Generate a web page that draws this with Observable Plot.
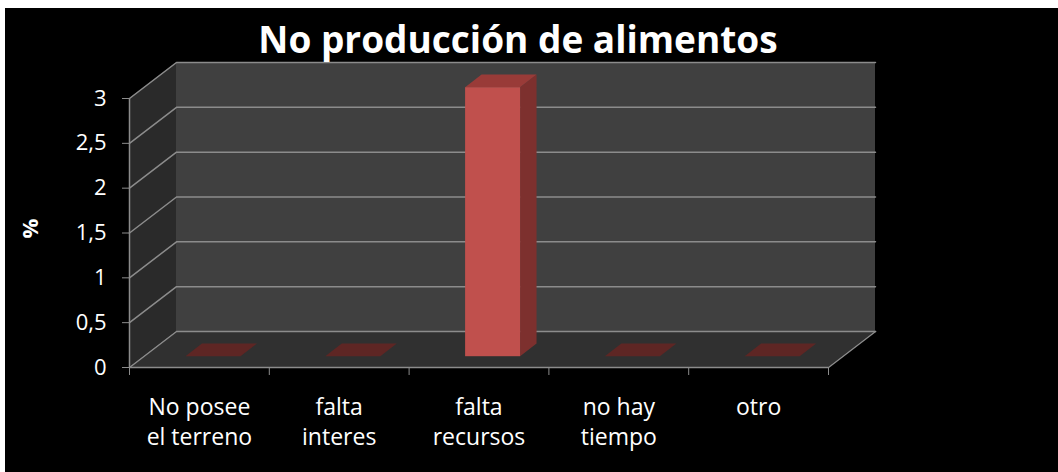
<!DOCTYPE html>
<html><head><meta charset="utf-8">
<script src="https://cdn.jsdelivr.net/npm/d3@7"></script>
<script src="https://cdn.jsdelivr.net/npm/@observablehq/plot@0.6"></script>
<style>
body{margin:0;background:#fff;}
#chart{position:absolute;left:5px;top:8px;width:1053px;height:464px;background:#000;}
#chart svg{display:block;}
</style></head><body><div id="chart"></div>
<script>
const title = "No producción de alimentos";
const categories = ["No posee\nel terreno", "falta\ninteres", "falta\nrecursos", "no hay\ntiempo", "otro"];
const values = [0, 0, 3, 0, 0];
const yTicks = [0, 0.5, 1, 1.5, 2, 2.5, 3];
const yTickLabels = ["0", "0,5", "1", "1,5", "2", "2,5", "3"];
const yLabel = "%";

const W = 1053, H = 464;
const mL = 124, mR = 183, mT = 54, mB = 105;
const depthPx = [47, 36];
const n = categories.length, yMax = d3.max(yTicks);
const kx = (W - mL - mR - depthPx[0]) / n;
const ky = (H - mT - mB - depthPx[1]) / yMax;
const dxU = depthPx[0] / kx, dyU = depthPx[1] / ky;
const bw = 55 / kx, f0 = 0.3, f1 = 0.65;

const bars = values.map((v, i) => {
  const xl = i + 0.5 - bw / 2 + f0 * dxU, xr = xl + bw;
  const b = f0 * dyU, t = v + f0 * dyU;
  const ddx = (f1 - f0) * dxU, ddy = (f1 - f0) * dyU;
  return {i, v, xl, xr, b, t, ddx, ddy};
});
const sides = bars.flatMap(d => [
  {i: d.i, x: d.xr, y1: d.b, y2: d.t},
  {i: d.i, x: d.xr + d.ddx, y1: d.b + d.ddy, y2: d.t + d.ddy}
]);
const tops = bars.flatMap(d => [
  {i: d.i, v: d.v, y: d.t, x1: d.xl, x2: d.xr},
  {i: d.i, v: d.v, y: d.t + d.ddy, x1: d.xl + d.ddx, x2: d.xr + d.ddx}
]);
// soft floor shadows under each bar footprint (slightly enlarged)
const ex = 10 / kx, ey = 5 / ky;
const shadows = bars.flatMap(d => [
  {i: d.i, y: d.b - ey, x1: d.xl - ex - 3 / kx, x2: d.xr + ex},
  {i: d.i, y: d.b + d.ddy + ey, x1: d.xl + d.ddx - ex, x2: d.xr + d.ddx + ex}
]);
const grid = yTicks.flatMap(v => [
  {v, x: 0, y: v}, {v, x: dxU, y: v + dyU}, {v, x: n + dxU, y: v + dyU}
]);
const gray = "#8c8c8c";

const plot = Plot.plot({
  width: W, height: H,
  marginLeft: mL, marginRight: mR, marginTop: mT, marginBottom: mB,
  style: {background: "#000", color: "white", fontFamily: "'Open Sans', sans-serif", overflow: "visible"},
  x: {type: "linear", domain: [0, n + dxU], axis: null},
  y: {type: "linear", domain: [0, yMax + dyU], axis: null},
  marks: [
    Plot.areaY([{x: 0, y1: 0, y2: yMax}, {x: dxU, y1: dyU, y2: yMax + dyU}], {x: "x", y1: "y1", y2: "y2", fill: "#2a2a2a"}),
    Plot.rect([0], {x1: () => dxU, x2: () => n + dxU, y1: () => dyU, y2: () => yMax + dyU, fill: "#404040"}),
    Plot.areaX([{y: 0, x1: 0, x2: n}, {y: dyU, x1: dxU, x2: n + dxU}], {y: "y", x1: "x1", x2: "x2", fill: "#303030"}),
    Plot.line(grid, {x: "x", y: "y", z: "v", stroke: gray, strokeWidth: 1.5}),
    Plot.line([{x: 0, y: 0}, {x: n, y: 0}, {x: n + dxU, y: dyU}], {x: "x", y: "y", stroke: gray, strokeWidth: 1.5}),
    Plot.ruleX([0], {y1: 0, y2: yMax, stroke: gray, strokeWidth: 1.5}),
    Plot.axisY({ticks: yTicks, tickFormat: d => yTickLabels[yTicks.indexOf(d)], tickSize: 7, tickPadding: 16, fontSize: 22, stroke: gray, fill: "white", label: null}),
    Plot.axisX({ticks: d3.range(n + 1), tickFormat: () => "", tickSize: 8, stroke: gray, label: null}),
    Plot.areaX(shadows, {y: "y", x1: "x1", x2: "x2", z: "i", fill: "#000", fillOpacity: 0.7, ariaLabel: "shadow"}),
    Plot.areaY(sides, {x: "x", y1: "y1", y2: "y2", z: "i", fill: "#7d302e"}),
    Plot.areaX(tops, {y: "y", x1: "x1", x2: "x2", z: "i", fill: d => d.v > 0 ? "#993b38" : "#5e2624"}),
    Plot.rect(bars, {x1: "xl", x2: "xr", y1: "b", y2: "t", fill: "#c0504d"}),
    Plot.text(categories, {x: (d, i) => i + 0.5, y: () => 0, dy: 26, lineAnchor: "top", lineHeight: 1.3, fontSize: 23, fill: "white"}),
    Plot.text([title], {frameAnchor: "top", dx: 15.5, dy: -10, lineAnchor: "bottom", fontSize: 37, fontWeight: "bold", fill: "white"}),
    Plot.text([yLabel], {frameAnchor: "left", dx: -99, dy: 13.5, rotate: -90, textAnchor: "middle", fontSize: 22, fontWeight: "bold", fill: "white"})
  ]
});
const svg = d3.select(plot);
svg.insert("defs", ":first-child").append("filter").attr("id", "softShadow")
  .attr("x", "-20%").attr("y", "-50%").attr("width", "140%").attr("height", "200%")
  .append("feGaussianBlur").attr("stdDeviation", 3.5);
svg.selectAll('g[aria-label="shadow"]').attr("filter", "url(#softShadow)");
document.getElementById("chart").appendChild(plot);
</script></body></html>
